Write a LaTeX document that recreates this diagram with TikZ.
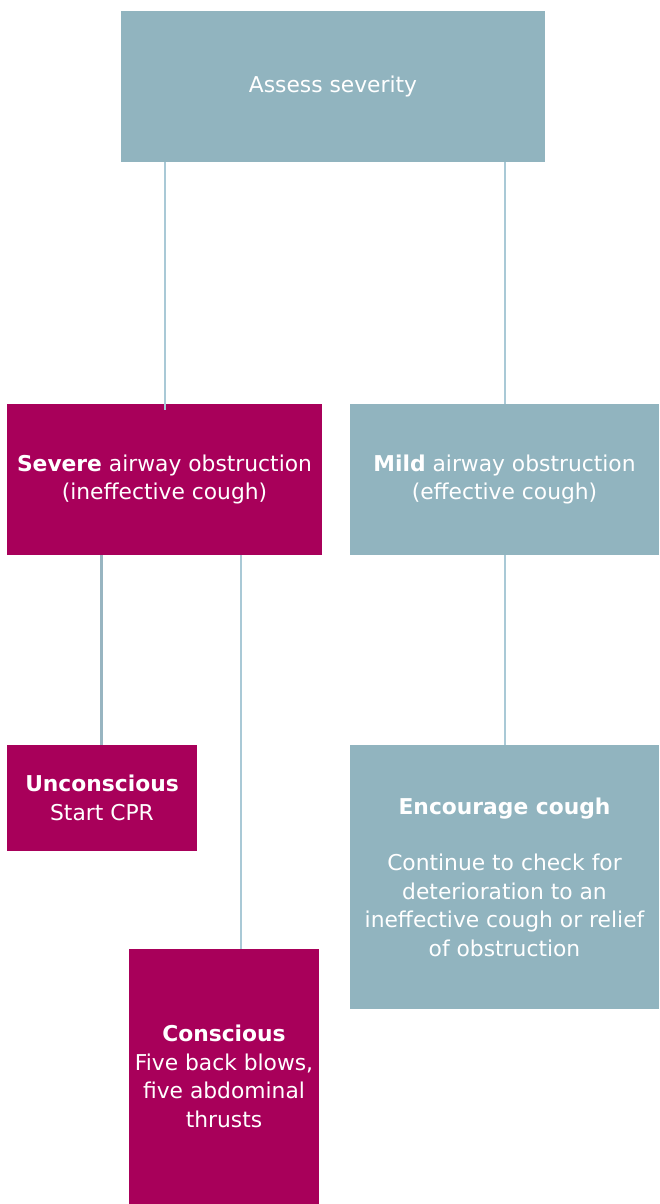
\documentclass[tikz,border=0pt]{standalone}
\usepackage{fontspec}
\setmainfont{DejaVu Sans}
\usetikzlibrary{positioning}

\definecolor{grayblue}{HTML}{91B4BF}
\definecolor{berry}{HTML}{A8005A}
\definecolor{linkblue}{HTML}{A9C9D6}

\tikzset{
  box/.style={rectangle, inner sep=0pt, text=white, align=center,
    font=\fontsize{21.8}{28.5}\selectfont},
  mildbox/.style={box, fill=grayblue},
  severebox/.style={box, fill=berry},
  link/.style={draw=linkblue, line width=1.5pt}
}

\begin{document}
\begin{tikzpicture}[x=1pt,y=-1pt]
  \useasboundingbox (0,0) rectangle (659,1204);

  \node[mildbox, minimum width=424pt, minimum height=151pt]   (assess)  at (333,86.5)   {Assess severity};
  \node[severebox, minimum width=315pt, minimum height=151pt] (severe)  at (164.5,479.5) {\textbf{Severe} airway obstruction\\(ineffective cough)};
  \node[mildbox, minimum width=309pt, minimum height=151pt]   (mild)    at (504.5,479.5) {\textbf{Mild} airway obstruction\\(effective cough)};
  \node[severebox, minimum width=190pt, minimum height=106pt] (uncons)  at (102,798)    {\textbf{Unconscious}\\Start CPR};
  \node[mildbox, minimum width=309pt, minimum height=264pt]   (encour)  at (504.5,877)  {\textbf{Encourage cough}\\[28pt]Continue to check for\\deterioration to an\\ineffective cough or relief\\of obstruction};
  \node[severebox, minimum width=190pt, minimum height=255pt] (cons)    at (224,1076.5) {\textbf{Conscious}\\Five back blows,\\five abdominal\\thrusts};

  \draw[link] (assess.south -| 165,0) -- ([yshift=-6pt]severe.north -| 165,0);
  \draw[link] (assess.south -| 505,0) -- (mild.north -| 505,0);
  \draw[link, line width=3pt, draw=linkblue!90!black] (severe.south -| 101,0) -- (uncons.north -| 101,0);
  \draw[link] (severe.south -| 241,0) -- (cons.north -| 241,0);
  \draw[link] (mild.south -| 505,0) -- (encour.north -| 505,0);
\end{tikzpicture}
\end{document}
